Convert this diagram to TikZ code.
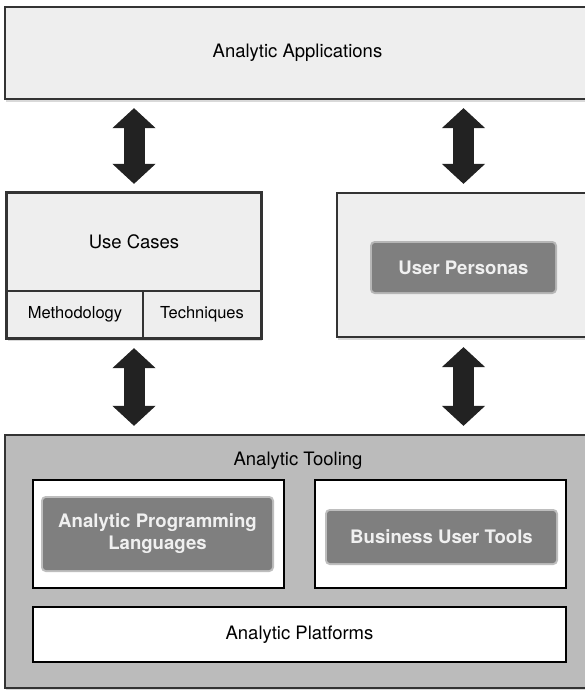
\documentclass[tikz,border=0pt]{standalone}
\usepackage{fontspec}
\setmainfont{TeX Gyre Heros}
\usetikzlibrary{arrows.meta,shadows}

\definecolor{paleface}{HTML}{EEEEEE}
\definecolor{edgegray}{HTML}{333333}
\definecolor{toolgray}{HTML}{BBBBBB}
\definecolor{tagfill}{HTML}{7F7F7F}
\definecolor{arrowgray}{HTML}{222222}

\tikzset{
  layer/.style={draw=edgegray, line width=2.2pt, fill=paleface, inner sep=0pt,
    drop shadow={shadow xshift=1pt, shadow yshift=-3pt, opacity=0.3}},
  cell/.style={draw=edgegray, line width=1.6pt, inner sep=0pt},
  slot/.style={draw=black, line width=2pt, fill=white, inner sep=0pt},
  tag/.style={fill=tagfill, draw=tagfill, draw opacity=0.5, line width=4pt,
    rounded corners=3pt, text=white!94!black, font=\bfseries\fontsize{18.6}{22}\selectfont,
    align=center, inner sep=0pt},
  bigarrow/.style={draw=arrowgray, line width=21pt,
    {Triangle[width=42pt,length=20pt]}-{Triangle[width=42pt,length=20pt]}},
}

\begin{document}
\begin{tikzpicture}[x=1pt, y=-1pt, font=\fontsize{18.5}{22}\selectfont]
  \useasboundingbox (0,0) rectangle (585,690);
  \clip (0,0) rectangle (585,690);

  % top layer
  \node[layer, minimum width=585pt, minimum height=92pt] (apps) at (297.5,53) {Analytic Applications};

  % use cases with its two parts
  \node[layer, minimum width=254pt, minimum height=145pt] (ucblock) at (134,265.5) {};
  \node[cell, minimum width=254pt, minimum height=98pt] (usecases) at (134,242) {Use Cases};
  \node[cell, minimum width=136pt, minimum height=47pt, font=\fontsize{16.5}{19}\selectfont] (method) at (75,314.5) {Methodology};
  \node[cell, minimum width=118pt, minimum height=47pt, font=\fontsize{16.5}{19}\selectfont] (tech) at (202,314.5) {Techniques};
  \draw[edgegray, line width=2.2pt] (ucblock.north west) rectangle (ucblock.south east);

  % personas
  \node[layer, minimum width=253pt, minimum height=144pt] (pbox) at (463.5,265) {};
  \node[tag, minimum width=183pt, minimum height=49pt] (personas) at (463.5,267.5) {User Personas};

  % tooling layer
  \node[layer, fill=toolgray, minimum width=585pt, minimum height=253pt] (tooling) at (297.5,561.5) {};
  \node (toolname) at (298,461) {Analytic Tooling};
  \node[slot, minimum width=251pt, minimum height=108pt] (aplbox) at (158.5,534) {};
  \node[tag, minimum width=229pt, minimum height=72pt] (apl) at (157.5,534) {Analytic Programming\\Languages};
  \node[slot, minimum width=251pt, minimum height=108pt] (butbox) at (440.5,534) {};
  \node[tag, minimum width=229pt, minimum height=52pt] (but) at (441.5,537) {Business User Tools};
  \node[slot, minimum width=533pt, minimum height=55pt] (platforms) at (299.5,634.5) {Analytic Platforms};

  % two-way arrows between the layers
  \draw[bigarrow, shorten <=8pt, shorten >=8pt] (apps.south -| ucblock.north) -- (ucblock.north);
  \draw[bigarrow, shorten <=8pt, shorten >=8pt] (apps.south -| pbox.north) -- (pbox.north);
  \draw[bigarrow, shorten <=9pt, shorten >=8pt] (ucblock.south) -- (ucblock.south |- tooling.north);
  \draw[bigarrow, shorten <=9pt, shorten >=8pt] (pbox.south) -- (pbox.south |- tooling.north);
\end{tikzpicture}
\end{document}
